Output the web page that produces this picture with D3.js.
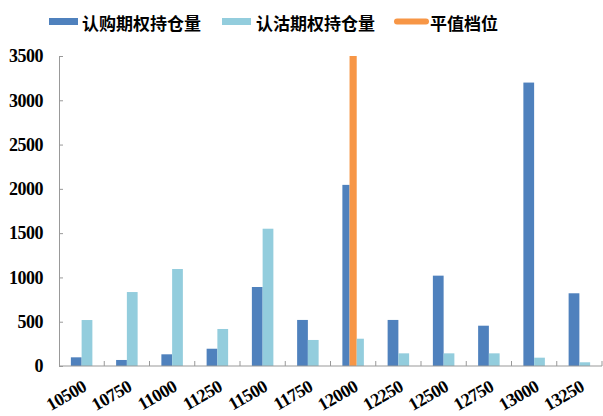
<!DOCTYPE html>
<html><head><meta charset="utf-8">
<script src="https://cdn.jsdelivr.net/npm/d3@7"></script>
<style>body{margin:0;background:#fff}</style>
</head><body>
<svg id="c" width="603" height="416"></svg>
<script>
const categories = ["10500","10750","11000","11250","11500","11750","12000","12250","12500","12750","13000","13250"];
const callOI = [98,68,132,195,892,520,2045,520,1020,455,3200,821];
const putOI = [519,835,1095,418,1550,294,308,143,143,143,94,42];
const atm = [0,0,0,0,0,0,3500,0,0,0,0,0];
const yTicks = [0,500,1000,1500,2000,2500,3000,3500];
const seriesNames = ["认购期权持仓量","认沽期权持仓量","平值档位"];
const colors = ["#4F81BD","#93CDDD","#F79646"];

const svg = d3.select("#c");
const x = d3.scaleBand().domain(categories).range([59,602]).padding(0);
const y = d3.scaleLinear().domain([0,3500]).range([366,56]);
const groupW = 21.5;
const serif = "Liberation Serif, Times New Roman, serif";

// bars
categories.forEach((c,i)=>{
  const present = [];
  present.push({v:callOI[i],col:colors[0]});
  if (atm[i]>0) present.push({v:atm[i],col:colors[2]});
  present.push({v:putOI[i],col:colors[1]});
  const bw = groupW/present.length;
  const x0 = x(c)+x.bandwidth()/2-groupW/2;
  svg.selectAll(null).data(present).enter().append("rect")
    .attr("x",(d,j)=>x0+j*bw).attr("width",bw)
    .attr("y",d=>y(d.v)).attr("height",d=>y(0)-y(d.v))
    .attr("fill",d=>d.col);
});

// y axis
const yAxis = d3.axisLeft(y).tickValues(yTicks).tickFormat(d3.format("d")).tickSizeInner(-4).tickSizeOuter(0).tickPadding(16);
const gy = svg.append("g").attr("transform","translate(59,0)").call(yAxis)
  .attr("font-family",serif).attr("font-size",18).attr("font-weight","bold");
gy.select(".domain").attr("stroke","#999");
gy.selectAll(".tick line").attr("stroke","#999");
gy.selectAll("text").attr("fill","#000").attr("letter-spacing","-0.5");

// x axis
const gx = svg.append("g").attr("transform","translate(0,366)");
gx.append("line").attr("x1",59).attr("x2",602).attr("y1",0).attr("y2",0).attr("stroke","#999");
gx.selectAll(".tk").data(categories).enter().append("line")
  .attr("x1",(d,i)=>59+(i+1)*x.bandwidth()).attr("x2",(d,i)=>59+(i+1)*x.bandwidth())
  .attr("y1",0).attr("y2",-5).attr("stroke","#999");
gx.selectAll(".lbl").data(categories).enter().append("text")
  .attr("transform",d=>`translate(${x(d)+x.bandwidth()/2+6},${24}) rotate(-30)`)
  .attr("text-anchor","end")
  .attr("font-family",serif)
  .attr("font-weight","bold").attr("font-size",18).attr("fill","#000")
  .attr("letter-spacing","-0.5")
  .text(d=>d);

// legend
const leg = [{sx:49,tx:82},{sx:222,tx:256},{sx:394,tx:430}];
leg.forEach((L,i)=>{
  if(i<2){
    svg.append("rect").attr("x",L.sx).attr("y",18).attr("width",29).attr("height",7).attr("fill",colors[i]);
  } else {
    svg.append("line").attr("x1",L.sx+3).attr("x2",L.sx+32).attr("y1",21.5).attr("y2",21.5)
      .attr("stroke",colors[2]).attr("stroke-width",6).attr("stroke-linecap","round");
  }
  svg.append("text").attr("x",L.tx).attr("y",22).attr("dominant-baseline","central")
    .attr("font-family","Noto Sans CJK SC, sans-serif").attr("font-weight","bold")
    .attr("font-size",17).attr("fill","#000").text(seriesNames[i]);
});
</script>
</body></html>
